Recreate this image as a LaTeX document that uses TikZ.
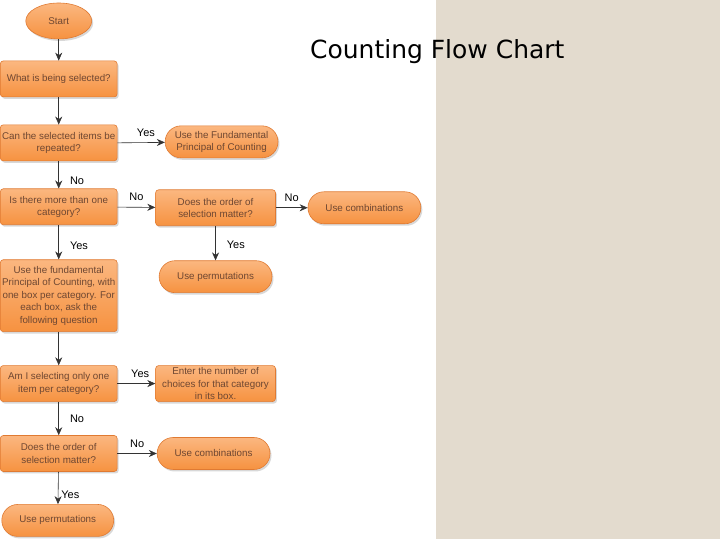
\documentclass[tikz,border=0pt]{standalone}
\usepackage{fontspec}
\setmainfont{Liberation Sans}
\newfontfamily\titlefont{DejaVu Sans}
\usetikzlibrary{shapes.misc}
\usetikzlibrary{shapes.geometric}
\usetikzlibrary{shadows}
\usetikzlibrary{arrows.meta}
\definecolor{boxtop}{HTML}{FBB780}
\definecolor{boxbot}{HTML}{F69240}
\definecolor{boxline}{HTML}{E07A32}
\definecolor{boxtext}{HTML}{6E4732}
\definecolor{paper}{HTML}{E3DBCE}
\tikzset{inner sep=6pt,
    flowbox/.style={
        draw=boxline,
        semithick,
        rounded corners=3pt,
        top color=boxtop,
        bottom color=boxbot,
        drop shadow={opacity=0.3,shadow xshift=1.5pt,shadow yshift=-2pt},
        text=boxtext,
        font=\fontsize{9.8}{12.5}\selectfont,
        align=center,
        inner sep=1pt,
        minimum width=117pt,
        minimum height=36pt},
    endbox/.style={
        draw=boxline,
        semithick,
        rounded rectangle,
        top color=boxtop,
        bottom color=boxbot,
        drop shadow={opacity=0.3,shadow xshift=1.5pt,shadow yshift=-2pt},
        text=boxtext,
        font=\fontsize{9.8}{12.5}\selectfont,
        align=center,
        inner sep=1pt,
        minimum width=115pt,
        minimum height=32pt},
    downlabel/.style={xshift=5pt},
    every edge/.style={
        draw=black!80,
        ->,>={Stealth[length=8pt,width=7pt]},
        auto,
        semithick}}

\begin{document}
\begin{tikzpicture}[x=1pt,y=-1pt,font=\fontsize{11}{13}\selectfont]
        % slide background
        \fill[white] (0,0) rectangle (720,540);
        \fill[paper] (436,0) rectangle (720,540);
        \node[font=\titlefont\fontsize{25}{30}\selectfont] (title) at (437,52) {Counting Flow Chart};

        \node[endbox,shape=ellipse,minimum width=66pt,minimum height=36pt] (start) at (58,21) {Start};
        \node[flowbox] (what) at (58,79) {What is being selected?};
        \node[flowbox] (repeat) at (58,143) {Can the selected items be\\repeated?};
        \node[endbox] (fpc) at (221,142) {Use the Fundamental\\Principal of Counting};
        \node[flowbox] (categ) at (58,207) {Is there more than one\\category?};
        \node[flowbox,minimum width=120pt] (order1) at (215,208) {Does the order of\\selection matter?};
        \node[endbox] (comb1) at (364,208) {Use combinations};
        \node[endbox] (perm1) at (215,277) {Use permutations};
        \node[flowbox,minimum height=72pt] (fund) at (58,296) {Use the fundamental\\Principal of Counting, with\\one box per category. For\\each box, ask the\\following question};
        \node[flowbox] (onlyone) at (58,384) {Am I selecting only one\\item per category?};
        \node[flowbox,minimum width=120pt] (enter) at (215,384) {Enter the number of\\choices for that category\\in its box.};
        \node[flowbox] (order2) at (58,454) {Does the order of\\selection matter?};
        \node[endbox] (comb2) at (213,454) {Use combinations};
        \node[endbox,minimum width=114pt] (perm2) at (57,521) {Use permutations};

        \draw (start) edge (what);
        \draw (what) edge (repeat);
        \draw (repeat.east) edge node[pos=0.6] {Yes} (fpc);
        \draw (repeat) edge node[pos=0.7,downlabel] {No} (categ);
        \draw (categ) edge node[pos=0.5] {No} (order1);
        \draw (order1) edge node[pos=0.5] {No} (comb1);
        \draw (order1) edge node[pos=0.55,downlabel] {Yes} (perm1);
        \draw (categ) edge node[pos=0.6,downlabel] {Yes} (fund);
        \draw (fund) edge (onlyone);
        \draw (onlyone) edge node[pos=0.6] {Yes} (enter);
        \draw (onlyone) edge node[pos=0.5,downlabel] {No} (order2);
        \draw (order2) edge node[pos=0.5] {No} (comb2);
        \draw (order2) edge node[pos=0.7,inner sep=3pt] {Yes} (perm2);
    \end{tikzpicture}
\end{document}
